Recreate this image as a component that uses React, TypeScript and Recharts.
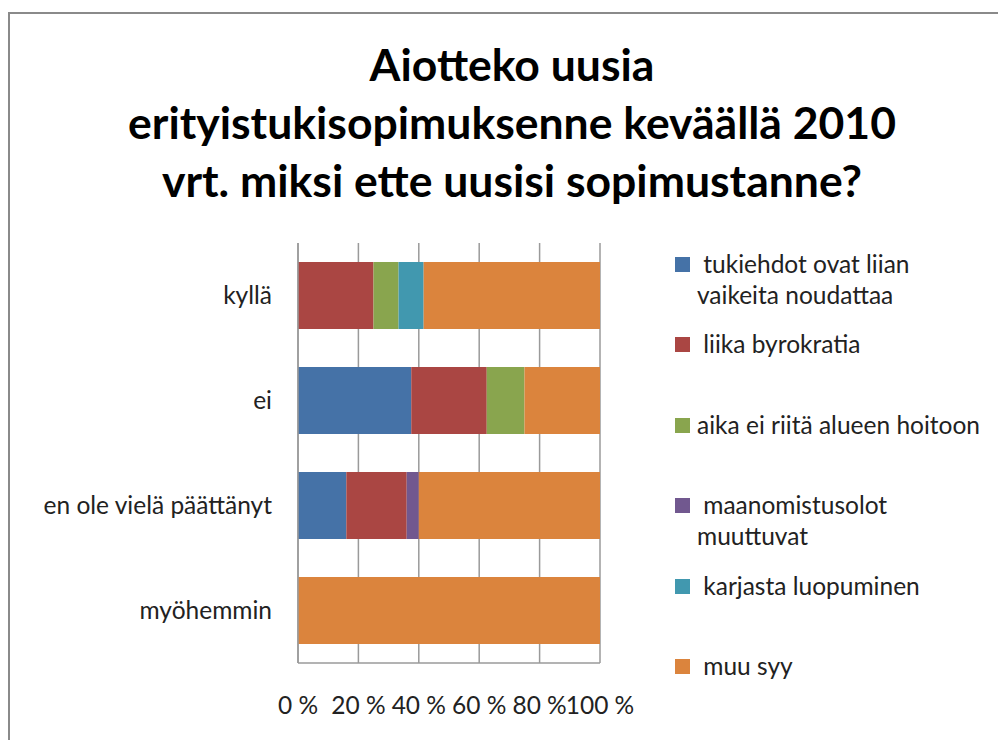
import { BarChart, Bar, XAxis, YAxis, CartesianGrid } from "recharts";

const categories = ["kyllä", "ei", "en ole vielä päättänyt", "myöhemmin"];
const seriesNames = [
  " tukiehdot ovat liian\nvaikeita noudattaa",
  " liika byrokratia",
  "aika ei riitä alueen hoitoon",
  " maanomistusolot\nmuuttuvat",
  " karjasta luopuminen",
  " muu syy",
];
// shares in percent, one array per series, in category order
const tukiehdot = [0, 37.5, 16, 0];
const byrokratia = [25, 25, 20, 0];
const aika = [8.3, 12.5, 0, 0];
const maanomistus = [0, 0, 4, 0];
const karjasta = [8.3, 0, 0, 0];
const muuSyy = [58.4, 25, 60, 100];
const xTicks = [0, 20, 40, 60, 80, 100];

const colors = ["#4572A7", "#AA4643", "#89A54E", "#71588F", "#4198AF", "#DB843D"];
const keys = ["s0", "s1", "s2", "s3", "s4", "s5"];
const series = [tukiehdot, byrokratia, aika, maanomistus, karjasta, muuSyy];

const data = categories.map((name, i) => {
  const row: Record<string, string | number> = { name };
  series.forEach((vals, j) => {
    row[keys[j]] = vals[i];
  });
  return row;
});

const font = "Lato, 'Open Sans', sans-serif";

const LegendBox = () => (
  <div
    style={{
      position: "absolute",
      left: 675,
      top: 248,
      fontFamily: font,
      fontSize: 24.5,
      color: "#222",
    }}
  >
    {seriesNames.map((n, i) => (
      <div key={i} style={{ position: "relative", height: 80.4 }}>
        <div
          style={{
            position: "absolute",
            left: 0,
            top: 9,
            width: 15,
            height: 15,
            background: colors[i],
          }}
        />
        <div
          style={{
            position: "absolute",
            left: 22,
            top: 0,
            whiteSpace: "pre",
            lineHeight: "31px",
          }}
        >
          {n}
        </div>
      </div>
    ))}
  </div>
);

export default function App() {
  return (
    <div
      style={{
        position: "absolute",
        left: 0,
        top: 0,
        width: 998,
        height: 740,
        overflow: "hidden",
        background: "#fff",
      }}
    >
      <div
        style={{
          position: "absolute",
          left: 8,
          top: 12,
          width: 1100,
          height: 900,
          border: "2px solid #8a8a8a",
        }}
      />
      <div
        style={{
          position: "absolute",
          left: 26,
          top: 35,
          width: 972,
          textAlign: "center",
          fontFamily: font,
          fontWeight: 700,
          fontSize: 44.5,
          lineHeight: "58px",
          color: "#000",
        }}
      >
        Aiotteko uusia
        <br />
        erityistukisopimuksenne keväällä 2010
        <br />
        vrt. miksi ette uusisi sopimustanne?
      </div>
      <div style={{ position: "absolute", left: 0, top: 0 }}>
        <BarChart
          width={998}
          height={740}
          data={data}
          layout="vertical"
          margin={{ top: 243, right: 398, bottom: 27, left: 0 }}
          barSize={67}
        >
          <CartesianGrid horizontal={false} stroke="#9a9a9a" strokeWidth={1.5} />
          <XAxis
            type="number"
            domain={[0, 100]}
            ticks={xTicks}
            tickFormatter={(v) => `${v} %`}
            height={50}
            tickLine={false}
            tickSize={0}
            tickMargin={29}
            axisLine={{ stroke: "#9a9a9a", strokeWidth: 1.5 }}
            tick={{ fontFamily: font, fontSize: 24.5, fill: "#222", dy: 5 }}
            interval={0}
          />
          <YAxis
            type="category"
            dataKey="name"
            width={298}
            tickLine={false}
            tickSize={0}
            tickMargin={26}
            axisLine={{ stroke: "#9a9a9a", strokeWidth: 1.5 }}
            tick={{ fontFamily: font, fontSize: 24.5, fill: "#222" }}
            interval={0}
          />
          {keys.map((k, i) => (
            <Bar
              key={k}
              dataKey={k}
              stackId="a"
              fill={colors[i]}
              name={seriesNames[i]}
              isAnimationActive={false}
            />
          ))}
        </BarChart>
      </div>
      <LegendBox />
    </div>
  );
}
